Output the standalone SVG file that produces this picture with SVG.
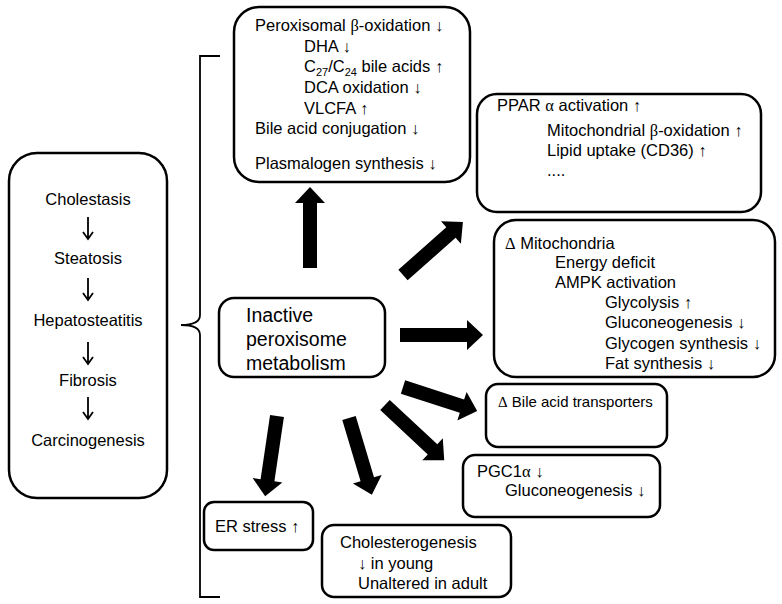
<svg xmlns="http://www.w3.org/2000/svg" width="782" height="604" viewBox="0 0 782 604">
<style>
.box{fill:#fff;stroke:#000;stroke-width:2.5}
text{font-family:"Liberation Sans",Arial,sans-serif;font-size:16.5px;fill:#000}
.g{font-family:"Liberation Serif","Times New Roman",serif}
.c{text-anchor:middle}
.big{font-size:19.5px}
.sm{font-size:15px}
.sub{font-size:11px}
.blk{fill:#000}
.thin{fill:none;stroke:#000;stroke-width:1.8}
</style>
<rect width="782" height="604" fill="#fff"/>
<g id="connectors">
  <path class="thin" d="M220,56 H200 V315 Q200,325 181,325 Q200,325 200,335 V597 H220"/>
  <path class="blk" transform="translate(310,268) rotate(-90)" d="M0,-7 H65 V-15 L81,0 L65,15 V7 H0 Z"/>
  <path class="blk" transform="translate(403,275) rotate(-41.5)" d="M0,-7 H64 V-15 L80,0 L64,15 V7 H0 Z"/>
  <path class="blk" transform="translate(400,335) rotate(0)" d="M0,-7 H67 V-15 L83,0 L67,15 V7 H0 Z"/>
  <path class="blk" transform="translate(403,387) rotate(18)" d="M0,-7 H62 V-15 L78,0 L62,15 V7 H0 Z"/>
  <path class="blk" transform="translate(385,405) rotate(43)" d="M0,-7 H65 V-15 L81,0 L65,15 V7 H0 Z"/>
  <path class="blk" transform="translate(349,418) rotate(73.4)" d="M0,-7 H64 V-15 L80,0 L64,15 V7 H0 Z"/>
  <path class="blk" transform="translate(277,416) rotate(98.4)" d="M0,-7 H65 V-15 L81,0 L65,15 V7 H0 Z"/>
</g>
<g id="progression">
  <rect class="box" x="9" y="153" width="158" height="345" rx="28"/>
  <text class="c" x="88" y="205">Cholestasis</text>
  <path class="thin" d="M88,217 V239 M83,232 L88,239 L93,232"/>
  <text class="c" x="88" y="264">Steatosis</text>
  <path class="thin" d="M88,278 V300 M83,293 L88,300 L93,293"/>
  <text class="c" x="88" y="326">Hepatosteatitis</text>
  <path class="thin" d="M88,342 V364 M83,357 L88,364 L93,357"/>
  <text class="c" x="88" y="386">Fibrosis</text>
  <path class="thin" d="M88,397 V419 M83,412 L88,419 L93,412"/>
  <text class="c" x="88" y="446">Carcinogenesis</text>
</g>
<g id="center">
  <rect class="box" x="219" y="298" width="166" height="79" rx="15"/>
  <text class="big" x="246" y="322">Inactive</text>
  <text class="big" x="246" y="346">peroxisome</text>
  <text class="big" x="246" y="370">metabolism</text>
</g>
<g id="peroxisomal">
  <rect class="box" x="234" y="7" width="236" height="175" rx="25"/>
  <text x="255" y="31">Peroxisomal <tspan class="g">β</tspan>-oxidation ↓</text>
  <text x="304" y="52">DHA ↓</text>
  <text x="304" y="72">C<tspan class="sub" dy="4">27</tspan><tspan dy="-4">/C</tspan><tspan class="sub" dy="4">24</tspan><tspan dy="-4"> bile acids ↑</tspan></text>
  <text x="304" y="93">DCA oxidation ↓</text>
  <text x="304" y="114">VLCFA ↑</text>
  <text x="255" y="134">Bile acid conjugation ↓</text>
  <text x="255" y="169">Plasmalogen synthesis ↓</text>
</g>
<g id="ppar">
  <rect class="box" x="477" y="94" width="284" height="118" rx="20"/>
  <text x="497" y="111">PPAR <tspan class="g">α</tspan> activation ↑</text>
  <text x="547" y="136">Mitochondrial <tspan class="g">β</tspan>-oxidation ↑</text>
  <text x="547" y="156">Lipid uptake (CD36) ↑</text>
  <text x="547" y="176">....</text>
</g>
<g id="mitochondria">
  <rect class="box" x="494" y="220" width="281" height="157" rx="22"/>
  <text x="505" y="249"><tspan class="g">Δ</tspan> Mitochondria</text>
  <text x="555" y="268">Energy deficit</text>
  <text x="555" y="288">AMPK activation</text>
  <text x="605" y="308">Glycolysis ↑</text>
  <text x="605" y="328">Gluconeogenesis ↓</text>
  <text x="605" y="349">Glycogen synthesis ↓</text>
  <text x="605" y="369">Fat synthesis ↓</text>
</g>
<g id="bile">
  <rect class="box" x="486" y="384" width="181" height="63" rx="12"/>
  <text class="sm" x="498" y="407"><tspan class="g">Δ</tspan> Bile acid transporters</text>
</g>
<g id="pgc">
  <rect class="box" x="463" y="455" width="197" height="62" rx="12"/>
  <text x="477" y="477">PGC1<tspan class="g">α</tspan> ↓</text>
  <text x="505" y="496">Gluconeogenesis ↓</text>
</g>
<g id="er">
  <rect class="box" x="204" y="502" width="109" height="48" rx="10"/>
  <text x="215" y="532">ER stress ↑</text>
</g>
<g id="chol">
  <rect class="box" x="322" y="525" width="189" height="72" rx="12"/>
  <text x="340" y="548">Cholesterogenesis</text>
  <text x="358" y="569">↓ in young</text>
  <text x="358" y="589">Unaltered in adult</text>
</g>
</svg>
